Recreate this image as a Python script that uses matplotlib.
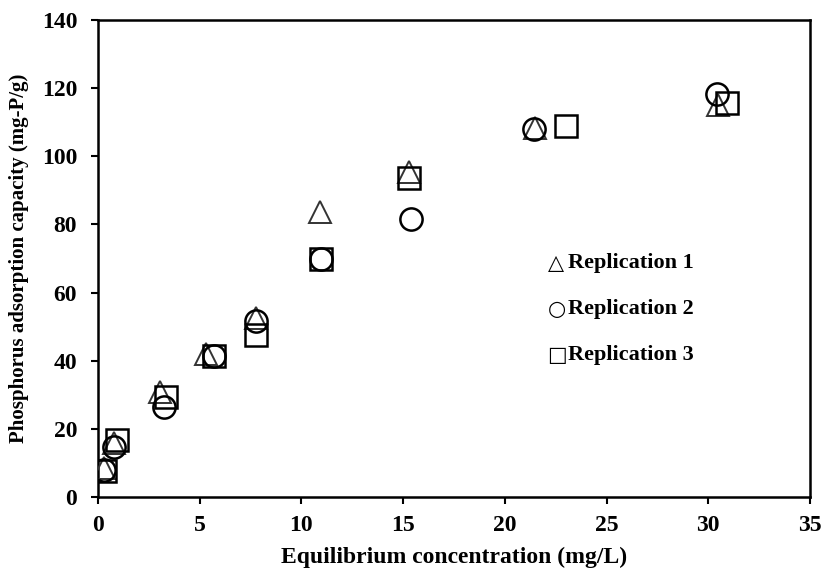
import matplotlib
matplotlib.use("Agg")
import matplotlib.pyplot as plt

# Data
x_rep1 = [0.3, 0.8, 3.05, 5.3, 7.75, 10.9, 15.3, 21.5, 30.5]
y_rep1 = [8.5, 15.8, 30.8, 42.0, 52.5, 83.6, 95.4, 108.3, 115.0]

x_rep2 = [0.3, 0.8, 3.25, 5.7, 7.75, 10.95, 15.4, 21.45, 30.45]
y_rep2 = [8.0, 14.7, 26.5, 41.5, 51.8, 70.0, 81.6, 108.0, 118.3]

x_rep3 = [0.35, 0.95, 3.35, 5.7, 7.75, 10.95, 15.3, 23.0, 30.9]
y_rep3 = [7.5, 16.7, 29.4, 41.3, 47.5, 70.0, 93.6, 109.0, 115.6]

legend_labels = ["Replication 1", "Replication 2", "Replication 3"]
legend_symbols = ["\u25b3", "\u25cb", "\u25a1"]

xticks = [0, 5, 10, 15, 20, 25, 30, 35]
yticks = [0, 20, 40, 60, 80, 100, 120, 140]

serif = ["Liberation Serif", "DejaVu Serif"]
plt.rcParams["font.family"] = serif
plt.rcParams["font.weight"] = "bold"

fig = plt.figure(figsize=(8.23, 5.70), dpi=100)
ax = fig.add_axes([98/823, 1 - 497/570, (810 - 98)/823, (497 - 20)/570])

ms = 16
ax.plot(x_rep1, y_rep1, linestyle="none", marker="^", ms=ms, mfc="none",
        mec="#333333", mew=1.4, zorder=3)
ax.plot(x_rep2, y_rep2, linestyle="none", marker="o", ms=ms, mfc="none",
        mec="black", mew=1.8, zorder=3)
ax.plot(x_rep3, y_rep3, linestyle="none", marker="s", ms=ms, mfc="none",
        mec="black", mew=1.8, zorder=3)

ax.set_xlim(0, 35)
ax.set_ylim(0, 140)
ax.set_xticks(xticks)
ax.set_yticks(yticks)
ax.tick_params(direction="out", length=5, width=1.5, labelsize=17)
ax.tick_params(axis="y", pad=10)
ax.tick_params(axis="x", pad=8)
for lbl in ax.get_xticklabels() + ax.get_yticklabels():
    lbl.set_fontweight("bold")
for sp in ax.spines.values():
    sp.set_linewidth(1.8)

ax.set_xlabel("Equilibrium concentration (mg/L)", fontsize=17, fontweight="bold", labelpad=8)
ax.set_ylabel("Phosphorus adsorption capacity (mg-P/g)", fontsize=15, fontweight="bold", labelpad=9)

# Text legend
leg_y = [68.7, 55.2, 41.7]
for sym, lab, yy in zip(legend_symbols, legend_labels, leg_y):
    ax.text(22.1, yy, sym, fontsize=15, fontweight="normal", va="center", ha="left",
            family=["DejaVu Sans"])
    ax.text(23.1, yy, lab, fontsize=16, fontweight="bold", va="center", ha="left")

fig.savefig("out.png", dpi=100)
